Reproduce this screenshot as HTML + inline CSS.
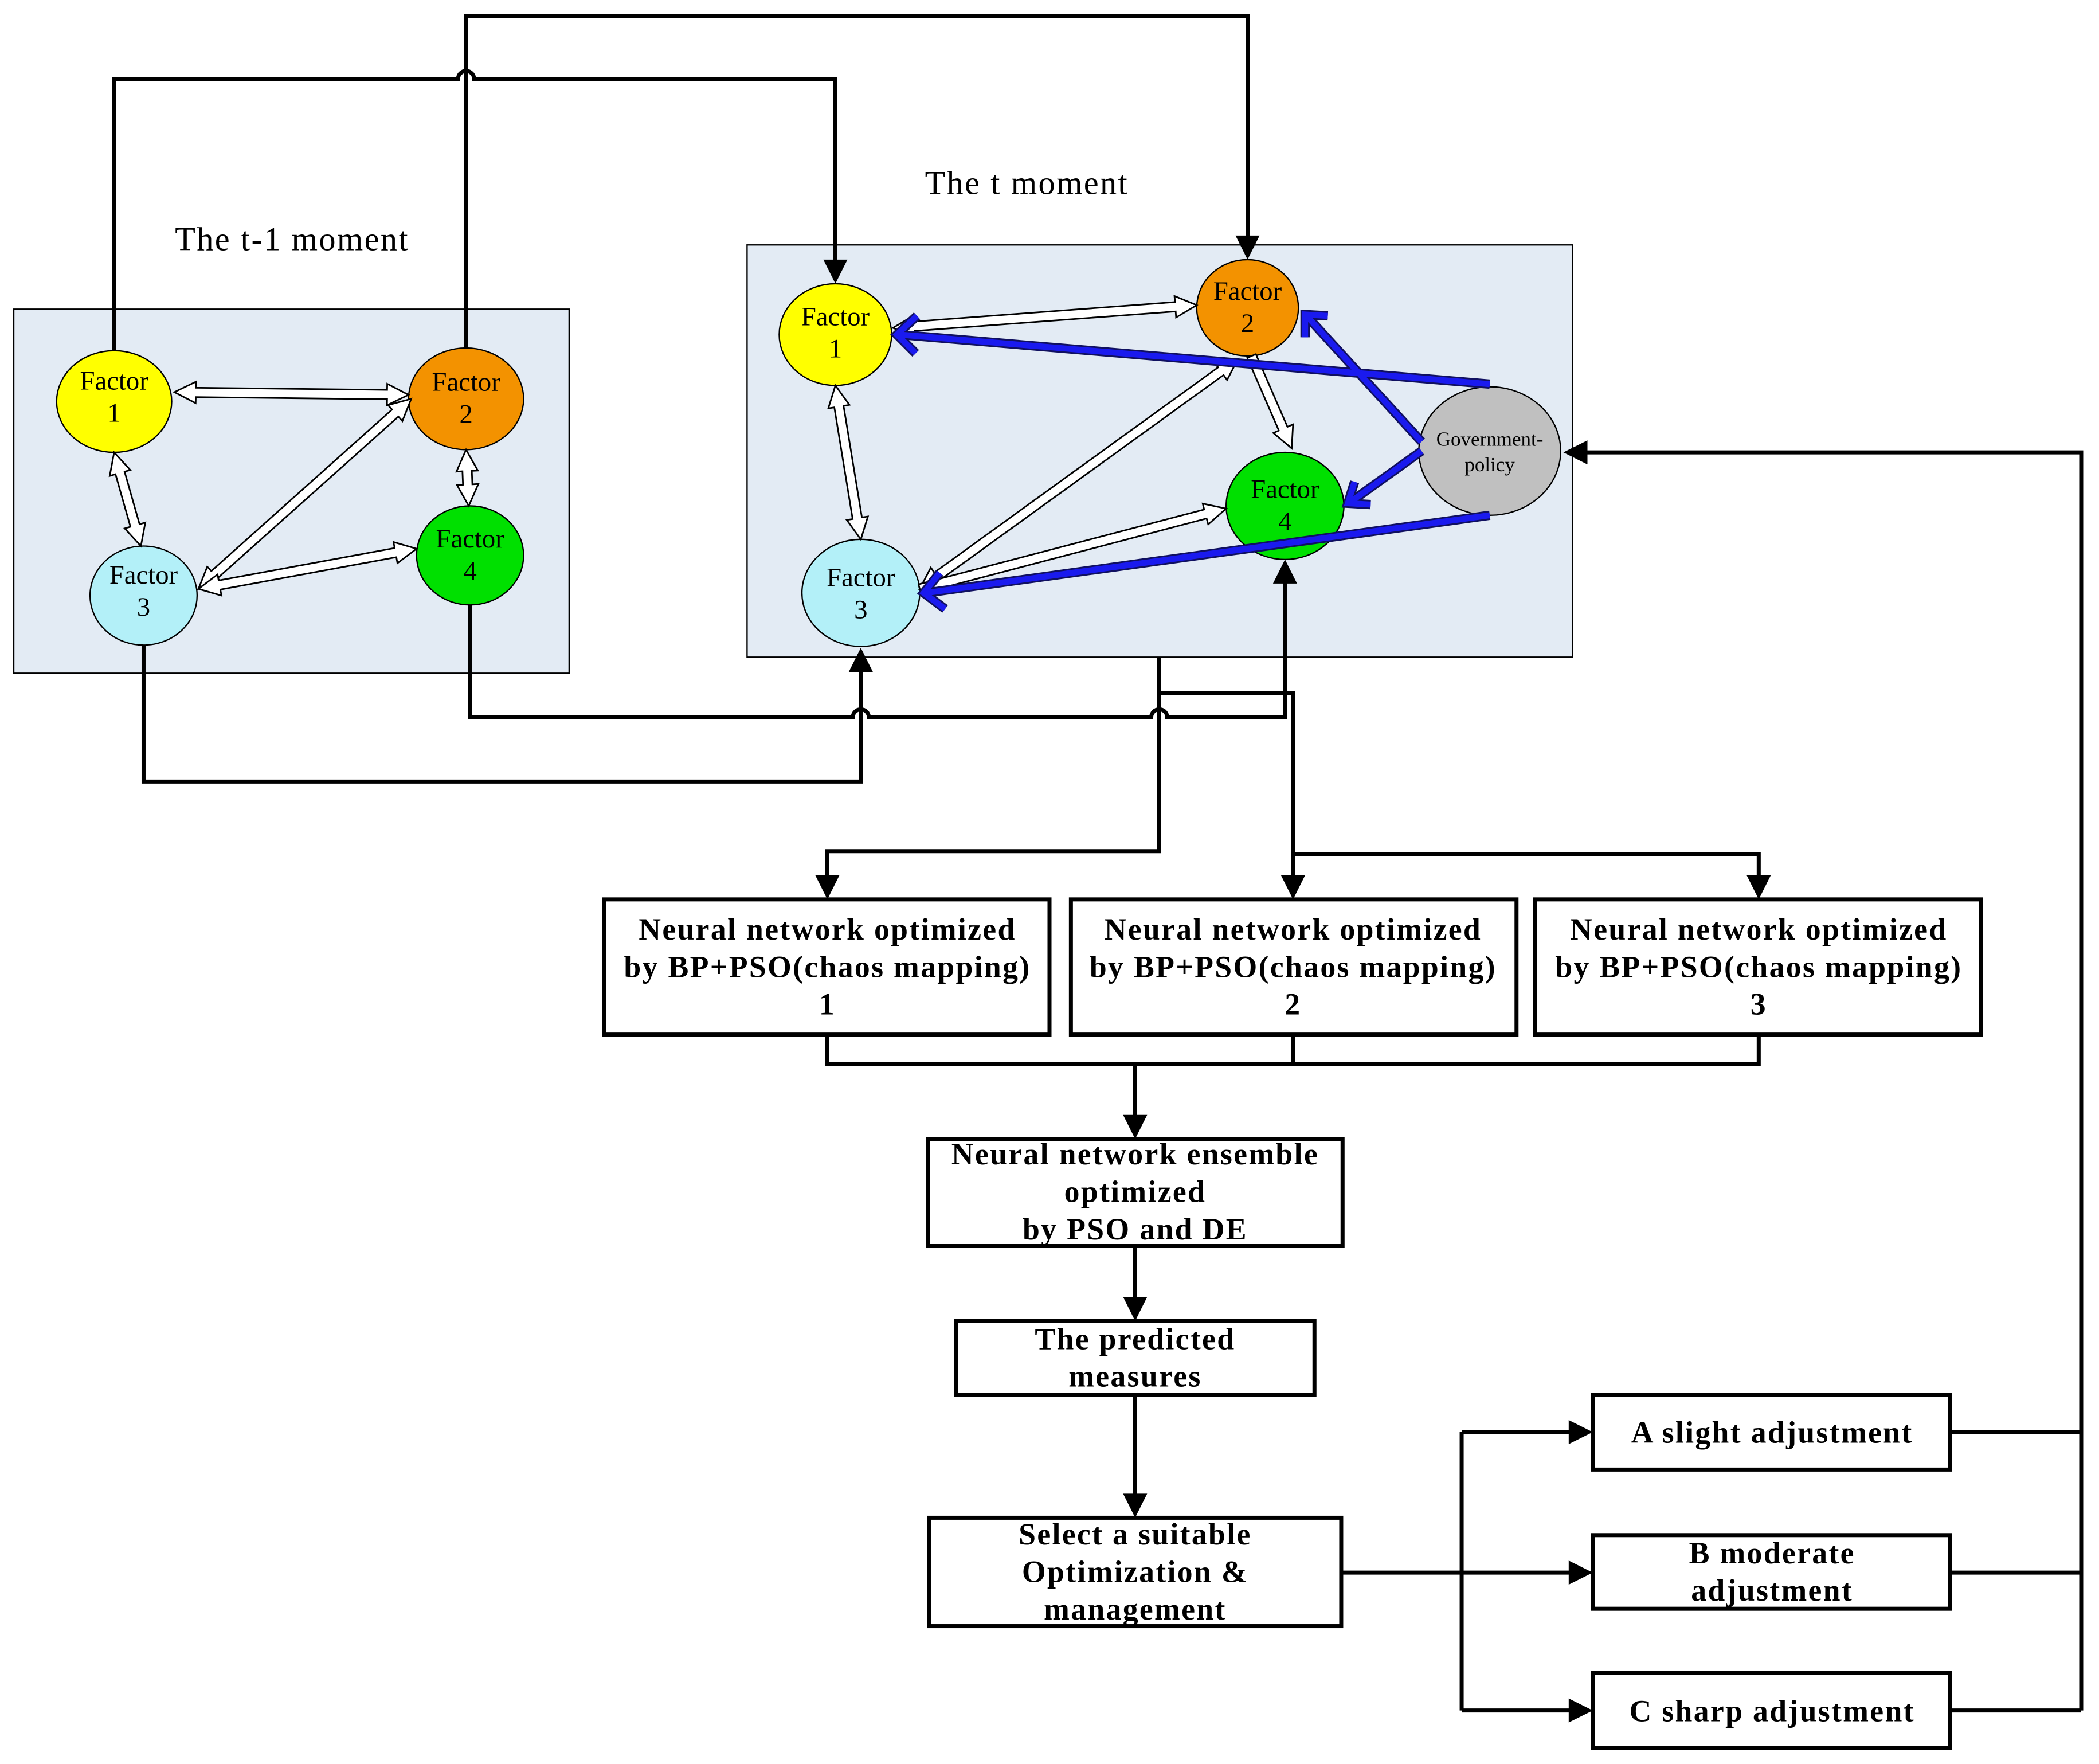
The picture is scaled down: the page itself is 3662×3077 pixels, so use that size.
<!DOCTYPE html>
<html><head><meta charset="utf-8"><style>html,body{margin:0;padding:0;background:#fff}svg{display:block}</style></head>
<body>
<svg id="s" width="3662" height="3077" viewBox="0 0 1568 1318" xmlns="http://www.w3.org/2000/svg" font-family="Liberation Serif, serif">
<rect width="1568" height="1318" fill="#fff"/>
<rect x="10" y="231" width="415" height="272" fill="#e3ebf4" stroke="#000" stroke-width="1"/>
<rect x="558" y="183" width="617" height="308" fill="#e3ebf4" stroke="#000" stroke-width="1"/>
<text x="218" y="187" font-size="25" letter-spacing="1" text-anchor="middle">The t-1 moment</text>
<text x="767" y="145" font-size="25" letter-spacing="1" text-anchor="middle">The t moment</text>

<g fill="none" stroke="#000" stroke-width="3">
<path d="M85,262 V59 H342 A6,6 0 0 1 354,59 H624 V196"/>
<path d="M348,260 V12 H932 V178"/>
<path d="M107,482 V584 H643 V500"/>
<path d="M351,452 V536 H637 A6,6 0 0 1 649,536 H860 A6,6 0 0 1 872,536 H960 V434"/>
<path d="M866,491 V636 H618 V656"/>
<path d="M866,518 H966 V656"/>
<path d="M966,638 H1314 V656"/>
<path d="M618,773 V795 H1314 V773 M966,773 V795 M848,795 V835"/>
<path d="M848,931 V971"/>
<path d="M848,1042 V1118"/>
<path d="M1002,1175 H1174 M1092,1070 V1278 M1092,1070 H1174 M1092,1278 H1174"/>
<path d="M1457,1070 H1555 M1457,1175 H1555 M1457,1278 H1555 M1555,1278 V338 H1186"/>
</g>
<g fill="#000">
<path d="M624,212 l-9,-18 h18 z"/>
<path d="M932,194 l-9,-18 h18 z"/>
<path d="M643,484 l-9,18 h18 z"/>
<path d="M960,418 l-9,18 h18 z"/>
<path d="M618,672 l-9,-18 h18 z"/>
<path d="M966,672 l-9,-18 h18 z"/>
<path d="M1314,672 l-9,-18 h18 z"/>
<path d="M848,851 l-9,-18 h18 z"/>
<path d="M848,987 l-9,-18 h18 z"/>
<path d="M848,1134 l-9,-18 h18 z"/>
<path d="M1190,1070 l-18,-9 v18 z"/>
<path d="M1190,1175 l-18,-9 v18 z"/>
<path d="M1190,1278 l-18,-9 v18 z"/>
<path d="M1168,338 l18,-9 v18 z"/>
</g>

<g stroke="#000" stroke-width="1">
<ellipse cx="85" cy="300" rx="43" ry="38" fill="#ffff00"/>
<ellipse cx="348" cy="298" rx="43" ry="38" fill="#f39200"/>
<ellipse cx="107" cy="445" rx="40" ry="37" fill="#b3f0f8"/>
<ellipse cx="351" cy="415" rx="40" ry="37" fill="#00e000"/>
<ellipse cx="624" cy="250" rx="42" ry="38" fill="#ffff00"/>
<ellipse cx="932" cy="230" rx="38" ry="36" fill="#f39200"/>
<ellipse cx="643" cy="443" rx="44" ry="40" fill="#b3f0f8"/>
<ellipse cx="960" cy="378" rx="44" ry="40" fill="#00e000"/>
<ellipse cx="1113" cy="337" rx="53" ry="48" fill="#c0c0c0"/>
</g>
<g font-size="20" text-anchor="middle">
<text x="85" y="291">Factor</text><text x="85" y="315">1</text>
<text x="348" y="292">Factor</text><text x="348" y="316">2</text>
<text x="107" y="436">Factor</text><text x="107" y="460">3</text>
<text x="351" y="409">Factor</text><text x="351" y="433">4</text>
<text x="624" y="243">Factor</text><text x="624" y="267">1</text>
<text x="932" y="224">Factor</text><text x="932" y="248">2</text>
<text x="643" y="438">Factor</text><text x="643" y="462">3</text>
<text x="960" y="372">Factor</text><text x="960" y="396">4</text>
<text x="1113" y="333" font-size="15">Government-</text><text x="1113" y="352" font-size="15">policy</text>
</g>

<g id="hollow" fill="#fff" stroke="#000" stroke-width="1.2" stroke-linejoin="miter"></g>

<g fill="none" stroke="#101060" stroke-width="7" stroke-linejoin="miter">
<line x1="1113" y1="287" x2="672" y2="250"/>
<path d="M685,236 L670,250 L684,264"/>
<line x1="1062" y1="330" x2="977" y2="237"/>
<path d="M975,252 L975,235 L992,236"/>
<line x1="1062" y1="337" x2="1009" y2="375"/>
<path d="M1012,360 L1007,376 L1024,377"/>
<line x1="1113" y1="385" x2="692" y2="443"/>
<path d="M702,428 L690,443 L706,455"/>
</g>
<g fill="none" stroke="#1a1aee" stroke-width="4.5" stroke-linejoin="miter">
<line x1="1113" y1="287" x2="672" y2="250"/>
<path d="M685,236 L670,250 L684,264"/>
<line x1="1062" y1="330" x2="977" y2="237"/>
<path d="M975,252 L975,235 L992,236"/>
<line x1="1062" y1="337" x2="1009" y2="375"/>
<path d="M1012,360 L1007,376 L1024,377"/>
<line x1="1113" y1="385" x2="692" y2="443"/>
<path d="M702,428 L690,443 L706,455"/>
</g>

<g fill="#fff" stroke="#000" stroke-width="3">
<rect x="451" y="672" width="333" height="101"/>
<rect x="800" y="672" width="333" height="101"/>
<rect x="1147" y="672" width="333" height="101"/>
<rect x="693" y="851" width="310" height="80"/>
<rect x="714" y="987" width="268" height="55"/>
<rect x="694" y="1134" width="308" height="81"/>
<rect x="1190" y="1042" width="267" height="56"/>
<rect x="1190" y="1147" width="267" height="55"/>
<rect x="1190" y="1250" width="267" height="56"/>
</g>
<g font-size="23" font-weight="bold" letter-spacing="1" text-anchor="middle">
<text x="618" y="702">Neural network optimized</text><text x="618" y="730">by BP+PSO(chaos mapping)</text><text x="618" y="758">1</text>
<text x="966" y="702">Neural network optimized</text><text x="966" y="730">by BP+PSO(chaos mapping)</text><text x="966" y="758">2</text>
<text x="1314" y="702">Neural network optimized</text><text x="1314" y="730">by BP+PSO(chaos mapping)</text><text x="1314" y="758">3</text>
<text x="848" y="870">Neural network ensemble</text><text x="848" y="898">optimized</text><text x="848" y="926">by PSO and DE</text>
<text x="848" y="1008">The predicted</text><text x="848" y="1036">measures</text>
<text x="848" y="1154">Select a suitable</text><text x="848" y="1182">Optimization &amp;</text><text x="848" y="1210">management</text>
<text x="1324" y="1078">A slight adjustment</text>
<text x="1324" y="1168">B moderate</text><text x="1324" y="1196">adjustment</text>
<text x="1324" y="1286">C sharp adjustment</text>
</g>
</svg>
<script>
(function(){
var A=[[130,293,305,295,2],[85,338,105,408,2],[348,336,350,378,2],[148,440,307,298,2],[148,440,311,410,2],
[667,245,894,228,2],[624,288,643,403,2],[935,266,965,335,1],[687,440,925,268,2],[687,440,916,380,1]];
var g=document.getElementById('hollow'),ns='http://www.w3.org/2000/svg';
A.forEach(function(a){
 var x1=a[0],y1=a[1],x2=a[2],y2=a[3],d=a[4];
 var dx=x2-x1,dy=y2-y1,L=Math.sqrt(dx*dx+dy*dy),ux=dx/L,uy=dy/L,nx=-uy,ny=ux;
 var hl=Math.min(16,L/2.6),hw=8,sw=3.5;
 function P(t,o){return (x1+ux*t+nx*o).toFixed(1)+','+(y1+uy*t+ny*o).toFixed(1);}
 var pts=[];
 if(d==2){pts.push(P(0,0),P(hl,hw),P(hl,sw));}else{pts.push(P(0,sw));}
 pts.push(P(L-hl,sw),P(L-hl,hw),P(L,0),P(L-hl,-hw),P(L-hl,-sw));
 if(d==2){pts.push(P(hl,-sw),P(hl,-hw));}else{pts.push(P(0,-sw));}
 var p=document.createElementNS(ns,'polygon');p.setAttribute('points',pts.join(' '));g.appendChild(p);
});
})();
</script>
</body></html>
